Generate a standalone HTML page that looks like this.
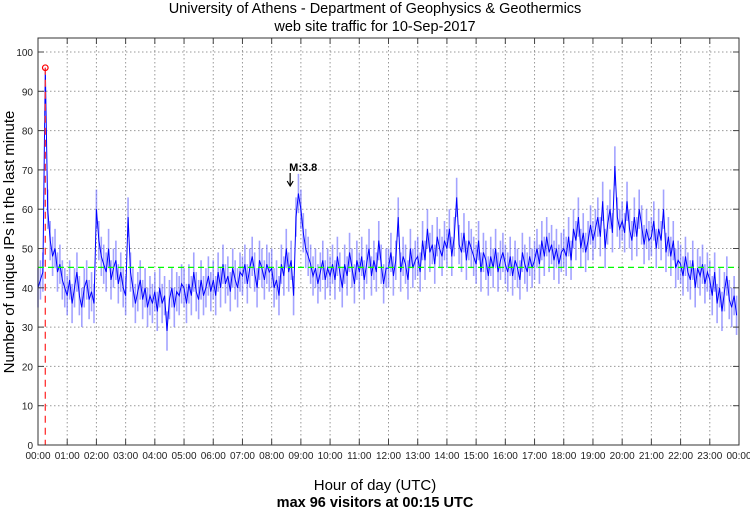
<!DOCTYPE html>
<html><head><meta charset="utf-8"><style>
body{margin:0;background:#fff;}
svg{display:block;font-family:"Liberation Sans","DejaVu Sans",sans-serif;}
</style></head><body>
<svg id="chart" width="750" height="511">
<text x="375" y="13" font-size="14.5" text-anchor="middle">University of Athens - Department of Geophysics &amp; Geothermics</text>
<text x="375" y="31" font-size="14.5" text-anchor="middle">web site traffic for 10-Sep-2017</text>
<text x="375" y="490" font-size="15" text-anchor="middle">Hour of day (UTC)</text>
<text x="375" y="507" font-size="14.5" text-anchor="middle" font-weight="bold">max 96 visitors at 00:15 UTC</text>
<text transform="translate(14,242) rotate(-90)" font-size="15" text-anchor="middle">Number of unique IPs in the last minute</text>
<g id="grid"></g><g id="series"></g><g id="axes"></g>
</svg>
<script>
const hours=["00:00","01:00","02:00","03:00","04:00","05:00","06:00","07:00","08:00","09:00","10:00","11:00","12:00","13:00","14:00","15:00","16:00","17:00","18:00","19:00","20:00","21:00","22:00","23:00","00:00"];
const yTicks=[0,10,20,30,40,50,60,70,80,90,100];
const visitors=[
40,42,44,96,60,52,48,50,44,46,42,40,
38,42,36,40,44,38,35,40,42,37,39,36,
60,52,48,46,44,50,42,45,47,41,44,40,
38,58,44,40,36,39,42,37,40,35,38,36,
39,34,40,36,38,29,37,40,35,39,38,41,
40,36,41,38,44,39,37,42,38,40,43,39,
42,38,44,40,46,41,43,39,45,42,40,44,
43,46,41,45,48,44,40,47,45,42,46,44,
45,40,42,38,46,43,50,44,47,38,58,64,
60,54,50,48,46,43,45,41,44,47,42,45,
43,46,42,48,44,40,46,43,49,45,41,47,
44,48,42,46,50,43,47,44,52,46,41,45,
45,49,43,47,58,44,48,46,42,50,45,47,
48,44,52,47,55,49,51,46,53,50,48,52,
50,55,48,53,63,51,49,54,47,52,50,48,
46,52,44,49,47,43,48,45,50,44,47,49,
46,44,48,43,47,45,42,49,46,44,48,45,
47,50,46,52,48,53,49,51,47,50,46,49,
50,48,53,47,55,52,58,50,54,49,52,56,
52,55,58,53,62,50,56,60,54,71,58,55,
57,54,62,55,52,58,53,60,56,51,55,52,
53,57,50,55,52,60,49,53,48,52,45,47,
46,43,48,44,42,47,40,45,43,46,41,44,
42,38,44,36,40,34,39,43,37,35,38,33];
const meanValue=45.2;
const maxValue=96, maxMinute=15;
const quakeMinute=518, quakeLabel="M:3.8";

const X0=38,X1=739,YT=38,YB=445;
const x=m=>X0+(X1-X0)*m/1440;
const y=v=>YB-(YB-52)*v/100;
const NS="http://www.w3.org/2000/svg";
function mk(t,a,p){const e=document.createElementNS(NS,t);for(const k in a)e.setAttribute(k,a[k]);p.appendChild(e);return e;}
const grid=document.getElementById('grid'),ser=document.getElementById('series'),ax=document.getElementById('axes');
hours.forEach((h,i)=>{const px=x(i*60);
 if(i>0&&i<24){const l=mk('line',{x1:px,x2:px,y1:YT,y2:YB,stroke:'#999','stroke-dasharray':'1.5,2.5','stroke-width':1},grid);
 
 }
 mk('line',{x1:px,x2:px,y1:YB,y2:YB-6,stroke:'#444'},ax);
 mk('line',{x1:px,x2:px,y1:YT,y2:YT+6,stroke:'#444'},ax);
 const t=mk('text',{x:px,y:459,'font-size':10,'text-anchor':'middle',fill:'#222'},ax);t.textContent=h;
 
 
});
yTicks.forEach(v=>{const py=y(v);
 if(v>0){const l=mk('line',{x1:X0,x2:X1,y1:py,y2:py,stroke:'#999','stroke-dasharray':'1.5,2.5','stroke-width':1},grid);
 
 }
 mk('line',{x1:X0,x2:X0+6,y1:py,y2:py,stroke:'#444'},ax);
 mk('line',{x1:X1,x2:X1-6,y1:py,y2:py,stroke:'#444'},ax);
 const t=mk('text',{x:33,y:py+4,'font-size':10,'text-anchor':'end',fill:'#222'},ax);t.textContent=v;
 
 
});
const fr=mk('rect',{x:X0,y:YT,width:X1-X0,height:YB-YT,fill:'none',stroke:'#333'},ax);


visitors.forEach((v,i)=>{if(i*5===maxMinute)return;
 const b=mk('line',{x1:x(i*5),x2:x(i*5),y1:y(v-5),y2:y(v+5),stroke:'#6666ff','stroke-width':1.6,'stroke-opacity':0.6},ser);
 
 
});
const pts=visitors.map((v,i)=>x(i*5).toFixed(1)+','+y(v).toFixed(1)).join(' ');
const pl=mk('polyline',{points:pts,fill:'none',stroke:'#0000ff','stroke-width':1},ser);


const ml=mk('line',{x1:X0,x2:X1,y1:y(meanValue),y2:y(meanValue),stroke:'#00ff00','stroke-dasharray':'6,4','stroke-width':1.2},ser);


const rl=mk('line',{x1:x(maxMinute),x2:x(maxMinute),y1:y(maxValue),y2:YB,stroke:'#ff3333','stroke-dasharray':'7,5','stroke-width':1.3},ser);


const mc=mk('circle',{cx:x(maxMinute),cy:y(maxValue),r:2.8,fill:'none',stroke:'red','stroke-width':1.2},ser);


const qx=x(quakeMinute);
const qa=mk('path',{d:`M${qx},173 V185 M${qx-3},181 L${qx},186 L${qx+3},181`,stroke:'#000',fill:'none','stroke-width':1.2},ser);


const qt=mk('text',{x:qx-1,y:171,'font-size':11,'font-weight':'bold'},ser);qt.textContent=quakeLabel;


</script>
</body></html>
